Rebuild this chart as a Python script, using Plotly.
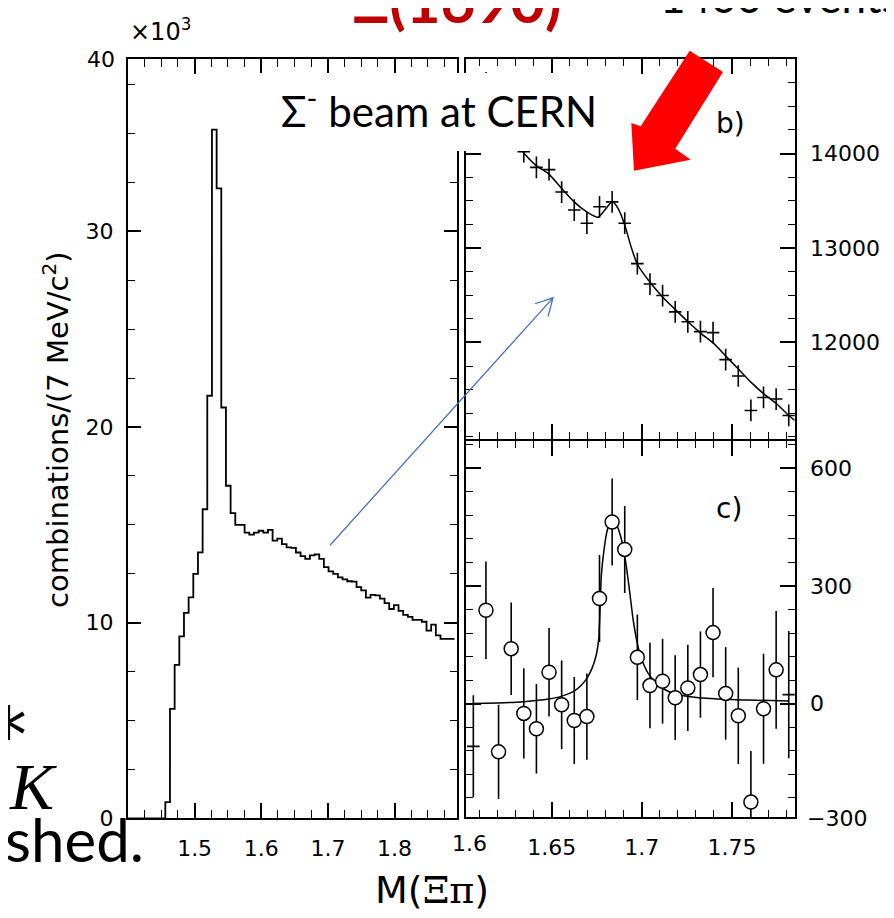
import plotly.graph_objects as go

W, H = 894, 918


def px(x):
    return x / W


def py(y):
    return 1 - y / H


PF = "DejaVu Sans"
SF = "Lato"

# ---------------- data ----------------
# panel a: histogram, 7 MeV bins starting at 1.456 GeV, counts in units of 10^3
a_bin_lo = 1.456
a_bin_w = 0.007
a_counts = [0.83, 5.6, 7.84, 9.3, 10.5, 11.3, 12.5, 13.6, 15.8, 21.6, 35.2, 32.2,
            21.0, 17.0, 15.6, 15.0, 15.0, 14.6, 14.5, 14.6, 14.7, 14.6,
            14.75, 14.2, 14.3, 14.02, 13.85, 13.83, 13.59, 13.40, 13.26, 13.44,
            13.49, 13.26, 12.84, 12.62, 12.50, 12.32, 12.22, 12.12, 12.10, 11.82,
            11.65, 11.28, 11.42, 11.40, 11.23,
            11.0, 10.7, 10.9, 10.6, 10.4, 10.3, 10.15, 10.15, 10.05, 9.6, 9.9,
            9.35, 9.17, 9.17, 9.17]
a_xticks = [1.5, 1.6, 1.7, 1.8]
a_yticks = [0, 10, 20, 30]

# panels b and c: bin centres
bc_x = [1.6065, 1.6135, 1.6205, 1.6275, 1.6345, 1.6415, 1.6485, 1.6555, 1.6625,
        1.6695, 1.6765, 1.6835, 1.6905, 1.6975, 1.7045, 1.7115, 1.7185, 1.7255,
        1.7325, 1.7395, 1.7465, 1.7535, 1.7605, 1.7675, 1.7745, 1.7815]
bc_half_bin = 0.0035
b_vals = [14600, 14750, 14200, 14300, 14020, 13854, 13830, 13593, 13402, 13263,
          13437, 13489, 13263, 12835, 12619, 12497, 12324, 12219, 12115, 12104,
          11818, 11645, 11280, 11418, 11401, 11227]
b_err = [115] * 26
b_fit_x = [1.6065, 1.6202, 1.6331, 1.6414, 1.6483, 1.6553, 1.6624, 1.6694, 1.6757,
           1.6794, 1.6835, 1.6868, 1.6905, 1.6942, 1.6975, 1.7045, 1.7116, 1.7186,
           1.7256, 1.7327, 1.7397, 1.7467, 1.7538, 1.7608, 1.7678, 1.7749, 1.7815,
           1.7848]
b_fit_y = [14700, 14380, 14038, 13872, 13785, 13635, 13489, 13384, 13326, 13402,
           13489, 13420, 13245, 13002, 12828, 12637, 12480, 12348, 12219, 12097,
           11993, 11854, 11714, 11575, 11453, 11349, 11227, 11175]
b_yticks = [12000, 13000, 14000]

c_vals = [-109, 238, -123, 140, -25, -64, 80, -3, -43, -33, 268, 463, 393, 118,
          46, 57, 15, 40, 74, 181, 26, -31, -251, -13, 86, 23]
c_err = [130, 124, 120, 118, 115, 114, 113, 113, 111, 110, 111, 111, 111, 109,
         109, 108, 108, 110, 110, 114, 118, 123, 130, 140, 150, 162]
c_fit_x = [1.6063, 1.6202, 1.6342, 1.6483, 1.6553, 1.6624, 1.6664, 1.6694, 1.6724,
           1.6747, 1.6761, 1.6768, 1.6775, 1.6790, 1.6808, 1.6831, 1.6850, 1.6872,
           1.6894, 1.6914, 1.6933, 1.6951, 1.6973, 1.6997, 1.7034, 1.7071, 1.7127,
           1.7182, 1.7256, 1.7404, 1.7589, 1.7811]
c_fit_y = [0, 1.7, 5, 11.7, 18.4, 31.8, 46.9, 63.6, 90.4, 123.9, 165.8, 241, 324.9,
           391.8, 442, 467.2, 465.5, 442, 404.4, 350, 283, 216.1, 157.5, 115.6,
           77.9, 57, 36, 25.1, 18.4, 12.6, 9.2, 6.7]
c_yticks = [0, 300, 600]
bc_xticks = [1.65, 1.7, 1.75]

A_XR = [1.4, 1.893]
A_YR = [0, 38.8]
BC_XR = [1.6026, 1.7848]
B_YR = [10983, 15002]
C_YR = [-290, 670]

A_XD = [px(120), px(448.5)]
A_YD = [py(822), py(52)]
BC_XD = [px(458.3), px(786.7)]
B_YD = [py(436.7), py(51.7)]
C_YD = [py(821), py(439)]

# ---------------- figure ----------------
edges = [round(a_bin_lo + a_bin_w * k, 4) for k in range(len(a_counts) + 1)]
hx = [1.4] + edges
hy = [0] + a_counts + [a_counts[-1]]

fig = go.Figure()
fig.add_trace(go.Scatter(x=hx, y=hy, mode="lines",
                         line=dict(shape="hv", color="black", width=1.8),
                         xaxis="x", yaxis="y", showlegend=False))

fig.add_trace(go.Scatter(x=bc_x, y=b_vals, mode="markers",
                         marker=dict(size=1, color="black"),
                         error_x=dict(type="constant", value=bc_half_bin, width=0,
                                      thickness=1.6, color="black"),
                         error_y=dict(type="data", array=b_err, width=0,
                                      thickness=1.6, color="black"),
                         xaxis="x2", yaxis="y2", showlegend=False))
fig.add_trace(go.Scatter(x=b_fit_x, y=b_fit_y, mode="lines",
                         line=dict(color="black", width=1.5, shape="spline",
                                   smoothing=0.6),
                         xaxis="x2", yaxis="y2", showlegend=False))

edge_idx = [0, len(c_vals) - 1]
circ_idx = list(range(1, len(c_vals) - 1))
fig.add_trace(go.Scatter(x=[bc_x[i] for i in edge_idx], y=[c_vals[i] for i in edge_idx],
                         mode="markers", marker=dict(size=1, color="black"),
                         error_x=dict(type="constant", value=bc_half_bin, width=0,
                                      thickness=1.6, color="black"),
                         error_y=dict(type="data", array=[c_err[i] for i in edge_idx],
                                      width=0, thickness=1.6, color="black"),
                         xaxis="x3", yaxis="y3", showlegend=False))
fig.add_trace(go.Scatter(x=c_fit_x, y=c_fit_y, mode="lines",
                         line=dict(color="black", width=1.5, shape="spline",
                                   smoothing=0.5),
                         xaxis="x3", yaxis="y3", showlegend=False))
fig.add_trace(go.Scatter(x=[bc_x[i] for i in circ_idx], y=[c_vals[i] for i in circ_idx],
                         mode="markers",
                         marker=dict(symbol="circle", size=14, color="white",
                                     line=dict(color="black", width=1.5)),
                         error_y=dict(type="data", array=[c_err[i] for i in circ_idx],
                                      width=0, thickness=1.6, color="black"),
                         xaxis="x3", yaxis="y3", showlegend=False))

# ---------------- axes ----------------
label_ax = dict(showline=True, linecolor="black", linewidth=2, mirror=True,
                ticks="", showgrid=False, zeroline=False,
                tickfont=dict(family=PF, size=22, color="black"))


def minor(t0, dt, ln=7):
    return dict(tickmode="linear", tick0=t0, dtick=dt, ticklen=ln, ticks="inside",
                tickcolor="black", tickwidth=1.3, showgrid=False)


def tick_ax(domain, rng, side, tickvals, ln, mnr, anchor):
    return dict(domain=domain, range=rng, side=side, anchor=anchor,
                tickmode="array", tickvals=tickvals, ticklen=ln, ticks="inside",
                tickcolor="black", tickwidth=1.6, minor=mnr, showline=True,
                linecolor="black", linewidth=2, showgrid=False, zeroline=False,
                showticklabels=False)


layout_axes = dict(
    xaxis=dict(domain=A_XD, range=A_XR, anchor="y", tickmode="array",
               tickvals=a_xticks, ticklabelstandoff=9, **label_ax),
    yaxis=dict(domain=A_YD, range=A_YR, anchor="x", tickmode="array",
               tickvals=a_yticks, ticklabelstandoff=8, **label_ax),
    xaxis2=dict(domain=BC_XD, range=BC_XR, anchor="y2", showticklabels=False,
                **label_ax),
    yaxis2=dict(domain=B_YD, range=B_YR, anchor="x2", side="right",
                tickmode="array", tickvals=b_yticks, tickformat="d",
                ticklabelstandoff=9, **label_ax),
    xaxis3=dict(domain=BC_XD, range=BC_XR, anchor="y3", tickmode="array",
                tickvals=bc_xticks, ticklabelstandoff=9, **label_ax),
    yaxis3=dict(domain=C_YD, range=C_YR, anchor="x3", side="right",
                tickmode="array", tickvals=c_yticks, ticklabelstandoff=9, **label_ax),
)

# tick-carrying twin subplots
a_xm, a_ym = minor(1.4, 0.025, 8), minor(0, 2.5, 7)
bc_xm = minor(1.6, 0.01, 7)
b_ym, c_ym = minor(0, 250, 7), minor(0, 60, 7)
twins = [
    (4, A_XD, A_YD, A_XR, A_YR, "top", "right", a_xticks, a_yticks, a_xm, a_ym, 13),
    (5, A_XD, A_YD, A_XR, A_YR, "bottom", "left", a_xticks, a_yticks, a_xm, a_ym, 13),
    (6, BC_XD, B_YD, BC_XR, B_YR, "top", "left", bc_xticks, b_yticks, bc_xm, b_ym, 15),
    (7, BC_XD, B_YD, BC_XR, B_YR, "bottom", "right", bc_xticks, b_yticks, bc_xm, b_ym, 15),
    (8, BC_XD, C_YD, BC_XR, C_YR, "top", "left", bc_xticks, c_yticks, bc_xm, c_ym, 15),
    (9, BC_XD, C_YD, BC_XR, C_YR, "bottom", "right", bc_xticks, c_yticks, bc_xm, c_ym, 15),
]
for (n, xd, yd, xr, yr, xs, ys, xt, yt, xm, ym, yl) in twins:
    layout_axes[f"xaxis{n}"] = tick_ax(xd, xr, xs, xt, 15, xm, f"y{n}")
    layout_axes[f"yaxis{n}"] = tick_ax(yd, yr, ys, yt, yl, ym, f"x{n}")
    fig.add_trace(go.Scatter(x=[xr[0]], y=[yr[0]], mode="markers",
                             marker=dict(size=1, opacity=0), xaxis=f"x{n}",
                             yaxis=f"y{n}", showlegend=False, hoverinfo="skip"))

fig.update_layout(width=W, height=H, margin=dict(l=0, r=0, t=0, b=0),
                  paper_bgcolor="white", plot_bgcolor="rgba(0,0,0,0)",
                  **layout_axes)

# ---------------- decorations ----------------
def P(points):
    return "M " + " L ".join(f"{px(x):.5f} {py(y):.5f}" for x, y in points) + " Z"


shapes = [
    dict(type="rect", xref="paper", yref="paper", x0=px(250), x1=px(605),
         y0=py(145), y1=py(66), fillcolor="white", line=dict(width=0), layer="above"),
    dict(type="path", xref="paper", yref="paper",
         path=P([(681.7, 43.3), (715, 65), (667.3, 142.7), (682.7, 154),
                 (626, 165), (623.3, 116.7), (632.7, 120)]),
         fillcolor="#FF0000", line=dict(width=0), layer="above"),
    dict(type="path", xref="paper", yref="paper",
         path=(f"M {px(322):.5f} {py(545):.5f} L {px(545):.5f} {py(294):.5f} "
               f"M {px(527):.5f} {py(300):.5f} L {px(545):.5f} {py(294):.5f} "
               f"L {px(540):.5f} {py(313):.5f}"),
         line=dict(color="#4472C4", width=1.3), layer="above"),
]
fig.update_layout(shapes=shapes)


def ann(text, x, y, size, family=PF, color="black", xanchor="center",
        yanchor="middle", angle=0):
    return dict(text=text, x=px(x), y=py(y), xref="paper", yref="paper",
                showarrow=False, xanchor=xanchor, yanchor=yanchor, textangle=angle,
                font=dict(family=family, size=size, color=color))


annotations = [
    ann("40", 109, 52, 22, xanchor="right"),
    ann("×10<sup>3</sup>", 152, 22, 24),
    ann("combinations/(7 MeV/c<sup>2</sup>)", 48, 428, 29, angle=-90),
    ann("1.6", 461.7, 848, 22),
    ann("−300", 797, 822, 22, xanchor="left"),
    ann("b)", 722, 117, 28),
    ann("c)", 721, 508, 28),
    ann("M(<span style='font-family:DejaVu Serif'>Ξπ</span>)", 424, 895, 38),
    ann("Σ<sup>-</sup> beam at CERN", 431, 101, 42, family=SF),
    ann("<b>Ξ(1690)</b>", 449, -8, 60, family=SF, color="#C00000"),
    ann("1400 events", 772, -12, 44, family=SF),
    ann("*", 0, 738, 76, family="DejaVu Sans"),
    ann("<i>K</i>", 25, 790, 66, family="Liberation Serif"),
    ann("shed.", 138, 843, 60, family=SF, xanchor="right"),
]
fig.update_layout(annotations=annotations)

fig.write_html("out.html")
